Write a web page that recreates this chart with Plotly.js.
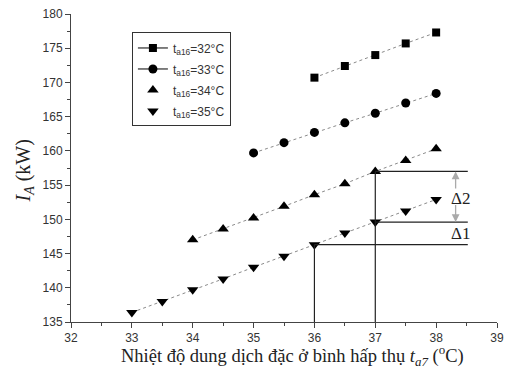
<!DOCTYPE html>
<html><head><meta charset="utf-8">
<script src="https://cdn.plot.ly/plotly-3.0.1.min.js"></script>
<style>html,body{margin:0;padding:0;background:#fff;}#chart{width:508px;height:372px;}</style>
</head><body><div id="chart"></div>
<script>
// Data
const x32 = [36, 36.5, 37, 37.5, 38];
const y32 = [170.7, 172.4, 174.0, 175.7, 177.3];
const x33 = [35, 35.5, 36, 36.5, 37, 37.5, 38];
const y33 = [159.7, 161.2, 162.7, 164.1, 165.5, 167.0, 168.4];
const x34 = [34, 34.5, 35, 35.5, 36, 36.5, 37, 37.5, 38];
const y34 = [147.0, 148.6, 150.2, 151.9, 153.6, 155.2, 157.0, 158.6, 160.3];
const x35 = [33, 33.5, 34, 34.5, 35, 35.5, 36, 36.5, 37, 37.5, 38];
const y35 = [136.4, 138.0, 139.7, 141.3, 143.0, 144.6, 146.3, 148.0, 149.6, 151.2, 152.9];
const names = ['t<sub>a16</sub>=32°C', 't<sub>a16</sub>=33°C', 't<sub>a16</sub>=34°C', 't<sub>a16</sub>=35°C'];
const symbols = ['square', 'circle', 'triangle-up', 'triangle-down'];
const xTickVals = [32, 33, 34, 35, 36, 37, 38, 39];
const yTickVals = [135, 140, 145, 150, 155, 160, 165, 170, 175, 180];

const xs = [x32, x33, x34, x35], ys = [y32, y33, y34, y35];
const sizes = [8, 9, 10, 10];
const traces = [];
for (let i = 0; i < 4; i++) {
  traces.push({x: xs[i], y: ys[i], mode: 'lines+markers', showlegend: false,
    line: {color: '#8a8a8a', width: 1, dash: 'dot'},
    marker: {symbol: symbols[i], size: sizes[i], color: '#000'}, cliponaxis: false});
}
for (let i = 0; i < 4; i++) {
  traces.push({x: [null], y: [null], name: names[i], legendgroup: 'g' + i,
    mode: i < 2 ? 'lines+markers' : 'markers',
    line: {color: '#000', width: 1}, marker: {symbol: symbols[i], size: sizes[i], color: '#000'}});
}

// Reference lines derived from data
const v36 = y35[x35.indexOf(36)];
const v37a = y35[x35.indexOf(37)];
const v37b = y34[x34.indexOf(37)];
const xEnd = 38.52;
const lc = {color: '#222', width: 1.2};
const shapes = [
  {type: 'line', xref: 'x', yref: 'y', x0: 36, x1: 36, y0: 135, y1: v36, line: lc},
  {type: 'line', xref: 'x', yref: 'y', x0: 37, x1: 37, y0: 135, y1: v37b, line: lc},
  {type: 'line', xref: 'x', yref: 'y', x0: 36, x1: xEnd, y0: v36, y1: v36, line: lc},
  {type: 'line', xref: 'x', yref: 'y', x0: 37, x1: xEnd, y0: v37a, y1: v37a, line: lc},
  {type: 'line', xref: 'x', yref: 'y', x0: 37, x1: xEnd, y0: v37b, y1: v37b, line: lc}
];
const ax = 38.32;
const serif = {family: 'Liberation Serif', size: 18.5, color: '#222'};
const annotations = [
  {x: ax, y: v37b, ax: ax, ay: 154.3, xref: 'x', yref: 'y', axref: 'x', ayref: 'y', text: '', showarrow: true,
   arrowhead: 2, arrowsize: 1.2, arrowwidth: 1.3, arrowcolor: '#aaa'},
  {x: ax, y: v37a, ax: ax, ay: 152.3, xref: 'x', yref: 'y', axref: 'x', ayref: 'y', text: '', showarrow: true,
   arrowhead: 2, arrowsize: 1.2, arrowwidth: 1.3, arrowcolor: '#aaa'},
  {x: 38.40, y: 153.1, xref: 'x', yref: 'y', text: 'Δ2', showarrow: false,
   font: {family: 'Liberation Serif', size: 17, color: '#222'}},
  {x: 38.40, y: 147.9, xref: 'x', yref: 'y', text: 'Δ1', showarrow: false,
   font: {family: 'Liberation Serif', size: 17, color: '#222'}},
  {x: 0.519, y: -0.11, xref: 'paper', yref: 'paper', xanchor: 'center', yanchor: 'middle', showarrow: false,
   text: 'Nhiệt độ dung dịch đặc ở bình hấp thụ <i>t<sub>a7</sub></i> (<sup>o</sup>C)', font: serif},
  {x: -0.110, y: 0.489, xref: 'paper', yref: 'paper', xanchor: 'center', yanchor: 'middle', showarrow: false,
   textangle: -90, text: '<i>I<sub>A</sub></i> (kW)', font: {family: 'Liberation Serif', size: 20, color: '#222'}}
];

const axisCommon = {showgrid: false, zeroline: false, showline: true, linecolor: '#444', linewidth: 1,
  ticks: 'outside', ticklen: 5, tickcolor: '#444', tickwidth: 1,
  tickfont: {family: 'Liberation Sans', size: 12, color: '#333'}};

const layout = {
  width: 508, height: 372,
  margin: {l: 71, r: 11, t: 13.5, b: 50},
  paper_bgcolor: '#fff', plot_bgcolor: '#fff',
  showlegend: true,
  legend: {x: 0.143, y: 0.94, xanchor: 'left', yanchor: 'top', bordercolor: '#333', borderwidth: 1,
    bgcolor: '#fff', font: {family: 'Liberation Sans', size: 12, color: '#333'}, tracegroupgap: 2, itemwidth: 30},
  xaxis: Object.assign({}, axisCommon, {range: [32, 39], tickvals: xTickVals,
    minor: {ticks: 'outside', ticklen: 3, dtick: 0.5, tick0: 32, tickcolor: '#444'}}),
  yaxis: Object.assign({}, axisCommon, {range: [135, 180], tickvals: yTickVals,
    minor: {ticks: 'outside', ticklen: 3, dtick: 2.5, tick0: 135, tickcolor: '#444'}}),
  shapes: shapes,
  annotations: annotations
};
Plotly.newPlot('chart', traces, layout, {displayModeBar: false, staticPlot: true});
</script></body></html>
